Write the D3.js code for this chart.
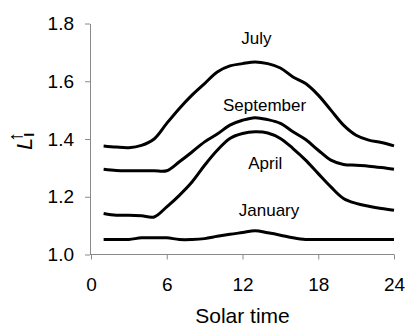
<!DOCTYPE html>
<html>
<head>
<meta charset="utf-8">
<script src="https://cdn.jsdelivr.net/npm/d3@7/dist/d3.min.js"></script>
<style>
  html, body { margin: 0; padding: 0; background: #fff; }
  svg { display: block; font-family: "Liberation Sans", Arial, sans-serif; }
</style>
</head>
<body>
<svg id="chart" width="406" height="332"></svg>
<script>
// Solar time (hours) at which each value is given
const hours = [1,2,3,4,5,6,7,8,9,10,11,12,13,14,15,16,17,18,19,20,21,22,23,24];

// Upward longwave ratio by month
const july      = [1.376,1.372,1.370,1.378,1.400,1.454,1.506,1.552,1.592,1.632,1.653,1.661,1.667,1.661,1.646,1.615,1.592,1.552,1.500,1.448,1.413,1.396,1.388,1.376];
const september = [1.295,1.291,1.290,1.290,1.290,1.290,1.321,1.355,1.390,1.417,1.448,1.465,1.474,1.467,1.454,1.425,1.398,1.361,1.327,1.312,1.309,1.306,1.301,1.295];
const april     = [1.142,1.136,1.136,1.134,1.130,1.165,1.205,1.251,1.309,1.361,1.402,1.419,1.425,1.421,1.402,1.367,1.327,1.280,1.234,1.194,1.177,1.167,1.159,1.153];
const january   = [1.052,1.052,1.052,1.058,1.058,1.058,1.052,1.052,1.055,1.063,1.070,1.076,1.082,1.075,1.067,1.058,1.052,1.052,1.052,1.052,1.052,1.052,1.052,1.052];

const seriesNames = ["July", "September", "April", "January"];
const seriesValues = [july, september, april, january];

// Tick values
const xTicks = [0, 6, 12, 18, 24];
const yTicks = [1.0, 1.2, 1.4, 1.6, 1.8];

// Where each series name sits: [hour, value of baseline]
const labelAnchors = [[13.1, 1.728], [13.75, 1.498], [13.8, 1.295], [14.1, 1.135]];

const svg = d3.select("#chart");

const x = d3.scaleLinear().domain([0, 24]).range([91, 394]);
const y = d3.scaleLinear().domain([1.0, 1.8]).range([254.5, 23.5]);

const axisColor = "#8a8a8a";

// x axis
const gx = svg.append("g")
  .attr("transform", `translate(0,${y(1.0)})`)
  .call(d3.axisBottom(x).tickValues(xTicks).tickSize(5).tickPadding(18).tickSizeOuter(0)
        .tickFormat(d3.format("d")));
gx.select(".domain").attr("stroke", axisColor).attr("d", `M${x(0) - 1},0H${x(24)}`);
gx.selectAll(".tick line").attr("stroke", axisColor);
gx.selectAll(".tick text").attr("font-size", 19).attr("fill", "#000")
  .attr("font-family", "Liberation Sans, Arial, sans-serif");

// y axis
const gy = svg.append("g")
  .attr("transform", `translate(${x(0) - 1},0)`)
  .call(d3.axisLeft(y).tickValues(yTicks).tickSize(5).tickPadding(11).tickSizeOuter(0)
        .tickFormat(d3.format(".1f")));
gy.select(".domain").attr("stroke", axisColor);
gy.selectAll(".tick line").attr("stroke", axisColor);
gy.selectAll(".tick text").attr("font-size", 19).attr("fill", "#000")
  .attr("font-family", "Liberation Sans, Arial, sans-serif");

// curves
const line = d3.line()
  .x((d, i) => x(hours[i]))
  .y(d => y(d))
  .curve(d3.curveCatmullRom.alpha(0.5));

svg.append("g").selectAll("path.series")
  .data(seriesValues)
  .join("path")
  .attr("class", "series")
  .attr("d", line)
  .attr("fill", "none")
  .attr("stroke", "#000")
  .attr("stroke-width", 3)
  .attr("stroke-linejoin", "round")
  .attr("stroke-linecap", "butt");

// series names
svg.append("g").selectAll("text")
  .data(seriesNames)
  .join("text")
  .attr("x", (d, i) => x(labelAnchors[i][0]))
  .attr("y", (d, i) => y(labelAnchors[i][1]))
  .attr("text-anchor", "middle")
  .attr("font-size", 17)
  .attr("fill", "#000")
  .text(d => d);

// x axis title
svg.append("text")
  .attr("x", (x(0) + x(24)) / 2)
  .attr("y", 323)
  .attr("text-anchor", "middle")
  .attr("font-size", 21)
  .attr("fill", "#000")
  .text("Solar time");

// y axis title: L with subscript I and an up arrow above it
const yt = svg.append("text")
  .attr("transform", "translate(32,141) rotate(-90)")
  .attr("text-anchor", "middle")
  .attr("font-size", 22)
  .attr("fill", "#000");
yt.append("tspan").attr("font-style", "italic").text("L");
yt.append("tspan").attr("font-size", 14).attr("font-weight", "bold").attr("dy", 2).attr("dx", 1).text("I");
yt.append("tspan").attr("font-size", 20).attr("dx", -9).attr("dy", -12).text("↑");
</script>
</body>
</html>
